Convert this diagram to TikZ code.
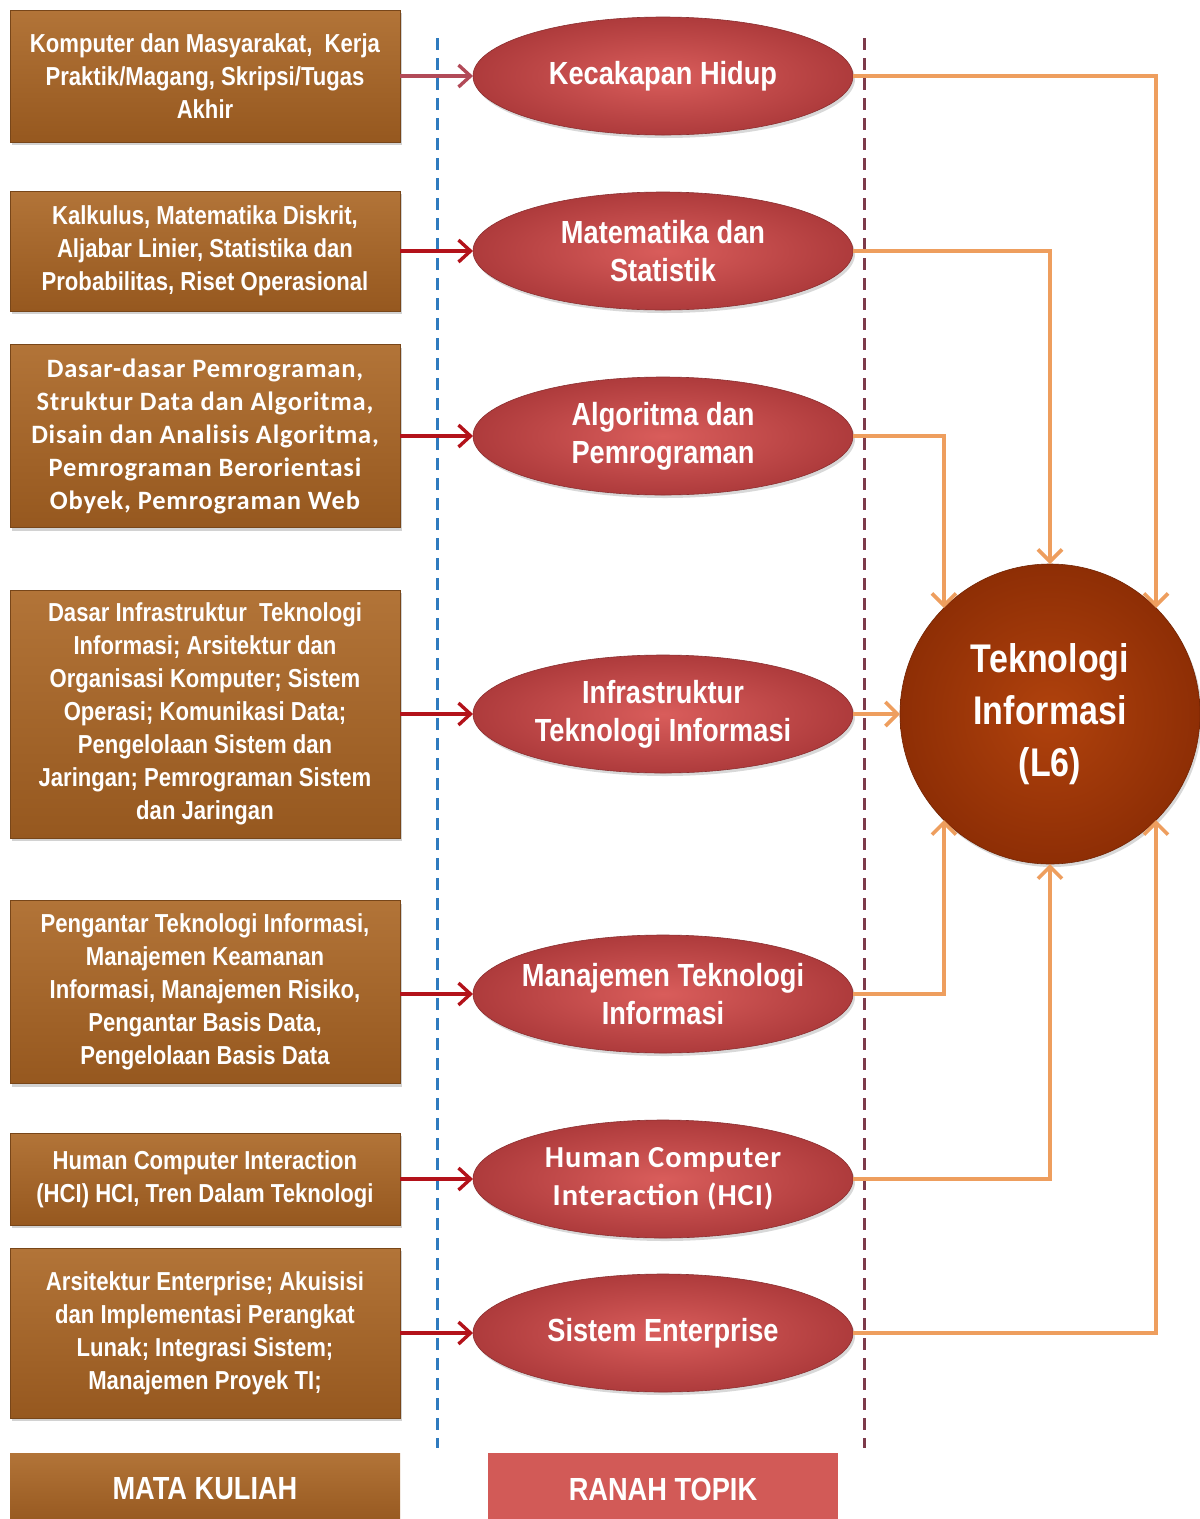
\documentclass[tikz,border=0pt]{standalone}
\usepackage{fontspec}
\usetikzlibrary{shapes.geometric,arrows.meta,shadows}
\newfontfamily\narfont[FakeStretch=0.85]{Liberation Sans}
\newfontfamily\carfont[LetterSpace=3]{Carlito}
\definecolor{boxtop}{HTML}{B27438}
\definecolor{boxbot}{HTML}{96581F}
\definecolor{topredin}{HTML}{D95D5B}
\definecolor{topredout}{HTML}{AE3B3C}
\definecolor{legred}{HTML}{D25A57}
\definecolor{arrred}{HTML}{B3121A}
\definecolor{arrpale}{HTML}{B24A58}
\definecolor{orangeline}{HTML}{EE9E5E}
\definecolor{techin}{HTML}{B0420D}
\definecolor{techout}{HTML}{8E2E05}
\definecolor{dashblue}{HTML}{2F7BBF}
\definecolor{dashplum}{HTML}{7D3A4A}
\tikzset{
  course/.style={rectangle, minimum width=390pt, inner sep=0pt, outer sep=0pt,
    top color=boxtop, bottom color=boxbot, draw=boxbot!80!black, line width=0.6pt,
    drop shadow={shadow xshift=2pt, shadow yshift=-3pt, opacity=0.35},
    text=white, align=center, font=\narfont\bfseries\fontsize{26}{33}\selectfont},
  topic/.style={ellipse, minimum width=380pt, minimum height=118pt, inner xsep=-20pt,
    inner ysep=0pt, outer sep=0pt,
    inner color=topredin, outer color=topredout, draw=topredout!80!black, line width=0.6pt,
    drop shadow={shadow xshift=2pt, shadow yshift=-3pt, opacity=0.3},
    text=white, align=center, font=\narfont\bfseries\fontsize{32}{38}\selectfont},
  legend/.style={rectangle, inner sep=0pt, outer sep=0pt, text=white,
    font=\narfont\bfseries\fontsize{32}{36}\selectfont},
  feed/.style={draw=arrred, line width=3.6pt, -{Straight Barb[length=12pt,width=22pt,line width=3.4pt]}},
  link/.style={draw=orangeline, line width=3.8pt, -{Straight Barb[length=12pt,width=24pt,line width=3.6pt]}},
  divider/.style={line width=3pt, dash pattern=on 12pt off 8pt}
}
\begin{document}
\begin{tikzpicture}[x=1pt,y=-1pt]
\useasboundingbox (0,0) rectangle (1200,1519);
\fill[white] (0,0) rectangle (1200,1519);

% column dividers
\draw[divider, dashblue] (437,38) -- (437,1448);
\draw[divider, dashplum] (864,38) -- (864,1448);

% courses
\node[course, minimum height=132pt] (b1) at (205,76)
  {Komputer dan Masyarakat,\ \ Kerja\\Praktik/Magang, Skripsi/Tugas\\Akhir};
\node[course, minimum height=120pt] (b2) at (205,251)
  {Kalkulus, Matematika Diskrit,\\Aljabar Linier, Statistika dan\\Probabilitas, Riset Operasional};
\node[course, minimum height=183pt, font=\carfont\bfseries\fontsize{26.5}{33}\selectfont] (b3) at (205,436)
  {Dasar-dasar Pemrograman,\\Struktur Data dan Algoritma,\\Disain dan Analisis Algoritma,\\Pemrograman Berorientasi\\Obyek, Pemrograman Web};
\node[course, minimum height=248pt] (b4) at (205,714)
  {Dasar Infrastruktur\ \ Teknologi\\Informasi; Arsitektur dan\\Organisasi Komputer; Sistem\\Operasi; Komunikasi Data;\\Pengelolaan Sistem dan\\Jaringan; Pemrograman Sistem\\dan Jaringan};
\node[course, minimum height=183pt] (b5) at (205,992)
  {Pengantar Teknologi Informasi,\\Manajemen Keamanan\\Informasi, Manajemen Risiko,\\Pengantar Basis Data,\\Pengelolaan Basis Data};
\node[course, minimum height=92pt] (b6) at (205,1179)
  {Human Computer Interaction\\(HCI) HCI, Tren Dalam Teknologi};
\node[course, minimum height=170pt] (b7) at (205,1333)
  {Arsitektur Enterprise; Akuisisi\\dan Implementasi Perangkat\\Lunak; Integrasi Sistem;\\Manajemen Proyek TI;};

% topic areas
\node[topic] (e1) at (663,76) {Kecakapan Hidup};
\node[topic] (e2) at (663,251) {Matematika dan\\Statistik};
\node[topic] (e3) at (663,436) {Algoritma dan\\Pemrograman};
\node[topic] (e4) at (663,714) {Infrastruktur\\Teknologi Informasi};
\node[topic] (e5) at (663,994) {Manajemen Teknologi\\Informasi};
\node[topic, font=\carfont\bfseries\fontsize{30.5}{38}\selectfont] (e6) at (663,1179) {Human Computer\\Interaction (HCI)};
\node[topic] (e7) at (663,1333) {Sistem Enterprise};

% programme
\node[circle, minimum size=300pt, inner sep=0pt, outer sep=0pt,
  inner color=techin, outer color=techout, draw=techout!80!black, line width=0.6pt,
  drop shadow={shadow xshift=2pt, shadow yshift=-3pt, opacity=0.3},
  text=white, align=center, font=\narfont\bfseries\fontsize{40}{52}\selectfont]
  (tech) at (1050,714) {Teknologi\\Informasi\\(L6)};

% course -> topic
\draw[feed, draw=arrpale] (b1.east) -- (e1.west);
\foreach \i in {2,...,7} \draw[feed] (b\i.east |- e\i.west) -- (e\i.west);

% topic -> programme
\draw[link] (e1.east) -| (tech.north east);
\draw[link] (e2.east) -| (tech.north);
\draw[link] (e3.east) -| (tech.north west);
\draw[link] (e4.east) -- (tech.west);
\draw[link] (e5.east) -| (tech.south west);
\draw[link] (e6.east) -| (tech.south);
\draw[link] (e7.east) -| (tech.south east);

% legend
\node[legend, minimum width=390pt, minimum height=72pt, anchor=north,
  top color=boxtop, bottom color=boxbot] (lk) at (205,1453) {MATA KULIAH};
\node[legend, minimum width=350pt, minimum height=72pt, anchor=north,
  fill=legred] (lt) at (663,1453) {RANAH TOPIK};
\end{tikzpicture}
\end{document}
